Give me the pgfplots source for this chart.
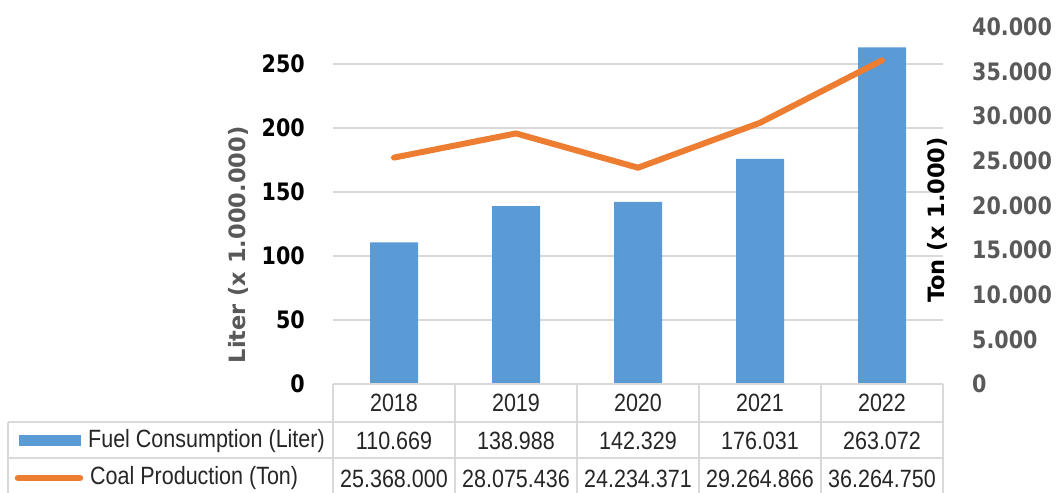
\documentclass[border=0pt]{standalone}
\usepackage{fontspec}
\usepackage{pgfplots}
\pgfplotsset{compat=1.18}
\setmainfont{Liberation Sans}
\newfontfamily\tickfont[FakeStretch=0.86]{DejaVu Sans}
\newfontfamily\labfont{DejaVu Sans}
\newfontfamily\tabfont[FakeStretch=0.86]{Liberation Sans}
\definecolor{barblue}{HTML}{5B9BD5}
\definecolor{orangec}{HTML}{ED7D31}
\definecolor{gridgray}{HTML}{D9D9D9}
\definecolor{labgray}{HTML}{595959}
\definecolor{tabtext}{HTML}{262626}
\newcommand{\tickf}{\tickfont\bfseries\fontsize{24bp}{28bp}\selectfont}
\newcommand{\labf}{\labfont\bfseries\fontsize{22.5bp}{26bp}\selectfont}
\newcommand{\tabf}{\tabfont\fontsize{25bp}{29bp}\selectfont}
\begin{document}
\begin{tikzpicture}
\path[use as bounding box] (0,0) rectangle (1057bp,493bp);
\begin{axis}[
  at={(333bp,109bp)}, anchor=south west,
  scale only axis, width=610bp, height=357bp,
  xmin=-0.5, xmax=4.5, ymin=0, ymax=279,
  xtick=\empty,
  ytick={0,50,100,150,200,250},
  yticklabels={0,50,100,150,200,250},
  axis line style={draw=none},
  major tick length=0pt,
  ymajorgrids, grid style={draw=gridgray, line width=2bp},
  yticklabel style={font=\tickf, text=black, anchor=east, inner sep=0pt, xshift=-28bp},
]
\addplot[ybar, bar width=48bp, fill=barblue, draw=none] coordinates {(0,110.669) (1,138.988) (2,142.329) (3,176.031) (4,263.072)};
\end{axis}
\begin{axis}[
  at={(333bp,109bp)}, anchor=south west,
  scale only axis, width=610bp, height=357bp,
  xmin=-0.5, xmax=4.5, ymin=0, ymax=40000,
  axis y line*=right, axis x line=none,
  xtick=\empty, scaled y ticks=false,
  ytick={0,5000,10000,15000,20000,25000,30000,35000,40000},
  yticklabels={0,5.000,10.000,15.000,20.000,25.000,30.000,35.000,40.000},
  axis line style={draw=none},
  major tick length=0pt,
  yticklabel style={font=\tickf, text=labgray, anchor=west, inner sep=0pt, xshift=29bp},
]
\addplot[color=orangec, line width=6bp, line cap=round, line join=round] coordinates {(0,25368.000) (1,28075.436) (2,24234.371) (3,29264.866) (4,36264.750)};
\end{axis}
\begin{scope}[x=1bp,y=-1bp,yshift=493bp]
\draw[gridgray, line width=2bp] (333,384) -- (943,384);
\draw[gridgray, line width=2bp] (8,422) -- (943,422);
\draw[gridgray, line width=2bp] (8,458) -- (943,458);
\foreach \xx in {333,455,577,699,821,943} {\draw[gridgray, line width=2bp] (\xx,384) -- (\xx,495);}
\draw[gridgray, line width=2bp] (8,422) -- (8,495);
\fill[barblue] (19,435) rectangle (81,446);
\draw[orangec, line width=6.5bp, line cap=round] (18,478) -- (80,478);
\node[font=\tabf, text=tabtext, anchor=west, inner sep=0pt] at (88,441) {Fuel Consumption (Liter)};
\node[font=\tabf, text=tabtext, anchor=west, inner sep=0pt] at (90,478) {Coal Production (Ton)};
\node[font=\tabf, text=tabtext] at (394,402.5) {2018};
\node[font=\tabf, text=tabtext] at (516,402.5) {2019};
\node[font=\tabf, text=tabtext] at (638,402.5) {2020};
\node[font=\tabf, text=tabtext] at (760,402.5) {2021};
\node[font=\tabf, text=tabtext] at (882,402.5) {2022};
\node[font=\tabf, text=tabtext] at (394,441) {110.669};
\node[font=\tabf, text=tabtext] at (516,441) {138.988};
\node[font=\tabf, text=tabtext] at (638,441) {142.329};
\node[font=\tabf, text=tabtext] at (760,441) {176.031};
\node[font=\tabf, text=tabtext] at (882,441) {263.072};
\node[font=\tabf, text=tabtext] at (394,479) {25.368.000};
\node[font=\tabf, text=tabtext] at (516,479) {28.075.436};
\node[font=\tabf, text=tabtext] at (638,479) {24.234.371};
\node[font=\tabf, text=tabtext] at (760,479) {29.264.866};
\node[font=\tabf, text=tabtext] at (882,479) {36.264.750};
\node[font=\labf, text=labgray, rotate=90] at (238,245) {Liter (x 1.000.000)};
\node[font=\labf, text=black, rotate=90] at (937,220) {Ton (x 1.000)};
\end{scope}
\end{tikzpicture}
\end{document}
